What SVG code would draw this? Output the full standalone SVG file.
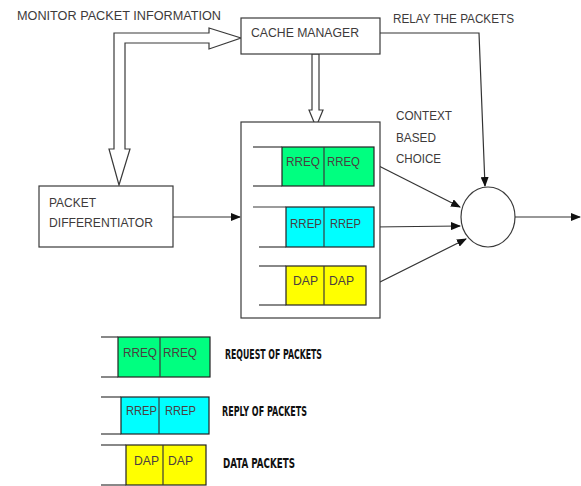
<svg xmlns="http://www.w3.org/2000/svg" width="581" height="486" viewBox="0 0 581 486">
<defs>
<marker id="ah" markerWidth="10" markerHeight="8" refX="9" refY="4" orient="auto" markerUnits="userSpaceOnUse">
<path d="M0,0 L10,4 L0,8 Z" fill="#111"/>
</marker>
<style>
.t{font-family:"Liberation Sans",Arial,sans-serif;font-size:12.5px;fill:#3d3a3a}
.c{font-family:"Liberation Sans",Arial,sans-serif;font-size:13px;fill:#4a4040}
.l{font-family:"DejaVu Sans Condensed","Liberation Sans Narrow",sans-serif;font-weight:bold;font-size:14.5px;fill:#111}
.box{fill:#fff;stroke:#3a3a3a;stroke-width:1.2}
.ln{stroke:#3a3a3a;stroke-width:1.2;fill:none}
.cn{stroke:#333;stroke-width:1.2;fill:none;marker-end:url(#ah)}
</style>
</defs>
<rect width="581" height="486" fill="#fff"/>

<text class="t" x="17" y="20" textLength="204" lengthAdjust="spacingAndGlyphs">MONITOR PACKET INFORMATION</text>
<text class="t" x="393" y="23" textLength="121" lengthAdjust="spacingAndGlyphs">RELAY THE PACKETS</text>
<text class="t" x="396" y="120" textLength="56" lengthAdjust="spacingAndGlyphs">CONTEXT</text>
<text class="t" x="396" y="142" textLength="40" lengthAdjust="spacingAndGlyphs">BASED</text>
<text class="t" x="396" y="163" textLength="45" lengthAdjust="spacingAndGlyphs">CHOICE</text>

<g id="connectors">
<path class="box" d="M114,33 L209,33 L209,28 L241,38 L209,49 L209,43 L125,43 L125,149 L130,149 L119,185 L109,149 L114,149 Z"/>
<path class="box" d="M312,54 L319,54 L319,110 L323,110 L316,127 L309,110 L312,110 Z"/>
<path class="cn" d="M380,33 L479,33 L485,186"/>
<path class="cn" d="M173,217 L240,217"/>
<path class="cn" d="M373,163 L460,207"/>
<path class="cn" d="M373,227 L460,226"/>
<path class="cn" d="M366,289 L466,239"/>
<path class="cn" d="M515,217 L580,217"/>
</g>

<g id="cache-manager">
<rect class="box" x="241" y="18" width="139" height="36"/>
<text class="t" x="251" y="37" textLength="108" lengthAdjust="spacingAndGlyphs">CACHE MANAGER</text>
</g>

<g id="packet-differentiator">
<rect class="box" x="39" y="186" width="134" height="61"/>
<text class="t" x="49" y="207" textLength="47" lengthAdjust="spacingAndGlyphs">PACKET</text>
<text class="t" x="49" y="227" textLength="104" lengthAdjust="spacingAndGlyphs">DIFFERENTIATOR</text>
</g>

<g id="queues">
<rect class="box" x="241" y="122" width="139" height="196"/>
<g id="queue-rreq">
<rect x="282" y="147" width="92" height="39" fill="#00ff80" stroke="#222" stroke-width="1.2"/>
<line class="ln" x1="324" y1="147" x2="324" y2="186"/>
<line class="ln" x1="253" y1="147" x2="282" y2="147"/>
<line class="ln" x1="253" y1="186" x2="282" y2="186"/>
<text class="c" x="286" y="166" textLength="34" lengthAdjust="spacingAndGlyphs">RREQ</text>
<text class="c" x="327" y="166" textLength="33" lengthAdjust="spacingAndGlyphs">RREQ</text>
</g>
<g id="queue-rrep">
<rect x="286" y="207" width="88" height="40" fill="#00ffff" stroke="#222" stroke-width="1.2"/>
<line class="ln" x1="324" y1="207" x2="324" y2="247"/>
<line class="ln" x1="253" y1="207" x2="286" y2="207"/>
<line class="ln" x1="259" y1="247" x2="286" y2="247"/>
<text class="c" x="290" y="228" textLength="32" lengthAdjust="spacingAndGlyphs">RREP</text>
<text class="c" x="330" y="228" textLength="31" lengthAdjust="spacingAndGlyphs">RREP</text>
</g>
<g id="queue-dap">
<rect x="286" y="266" width="80" height="39" fill="#ffff00" stroke="#222" stroke-width="1.2"/>
<line class="ln" x1="324" y1="266" x2="324" y2="305"/>
<line class="ln" x1="259" y1="266" x2="286" y2="266"/>
<line class="ln" x1="259" y1="305" x2="286" y2="305"/>
<text class="c" x="293" y="285" textLength="25" lengthAdjust="spacingAndGlyphs">DAP</text>
<text class="c" x="329" y="285" textLength="25" lengthAdjust="spacingAndGlyphs">DAP</text>
</g>
</g>

<g id="selector">
<ellipse class="box" cx="488" cy="217" rx="27" ry="30"/>
</g>

<g id="legend">
<g id="legend-rreq">
<rect x="118" y="337" width="92" height="40" fill="#00ff80" stroke="#222" stroke-width="1.2"/>
<line class="ln" x1="160" y1="337" x2="160" y2="377"/>
<line class="ln" x1="101" y1="337" x2="118" y2="337"/>
<line class="ln" x1="101" y1="377" x2="118" y2="377"/>
<text class="c" x="123" y="357" textLength="34" lengthAdjust="spacingAndGlyphs">RREQ</text>
<text class="c" x="163" y="357" textLength="34" lengthAdjust="spacingAndGlyphs">RREQ</text>
<text class="l" x="225" y="359" textLength="97" lengthAdjust="spacingAndGlyphs">REQUEST OF PACKETS</text>
</g>
<g id="legend-rrep">
<rect x="121" y="397" width="88" height="37" fill="#00ffff" stroke="#222" stroke-width="1.2"/>
<line class="ln" x1="159" y1="397" x2="159" y2="434"/>
<line class="ln" x1="101" y1="397" x2="121" y2="397"/>
<line class="ln" x1="101" y1="434" x2="121" y2="434"/>
<text class="c" x="126" y="415" textLength="31" lengthAdjust="spacingAndGlyphs">RREP</text>
<text class="c" x="165" y="415" textLength="31" lengthAdjust="spacingAndGlyphs">RREP</text>
<text class="l" x="222" y="416" textLength="85" lengthAdjust="spacingAndGlyphs">REPLY OF PACKETS</text>
</g>
<g id="legend-dap">
<rect x="126" y="445" width="80" height="40" fill="#ffff00" stroke="#222" stroke-width="1.2"/>
<line class="ln" x1="163" y1="445" x2="163" y2="485"/>
<line class="ln" x1="101" y1="445" x2="126" y2="445"/>
<line class="ln" x1="101" y1="485" x2="126" y2="485"/>
<text class="c" x="134" y="465" textLength="25" lengthAdjust="spacingAndGlyphs">DAP</text>
<text class="c" x="168" y="465" textLength="25" lengthAdjust="spacingAndGlyphs">DAP</text>
<text class="l" x="223" y="468" textLength="72" lengthAdjust="spacingAndGlyphs">DATA PACKETS</text>
</g>
</g>
</svg>
